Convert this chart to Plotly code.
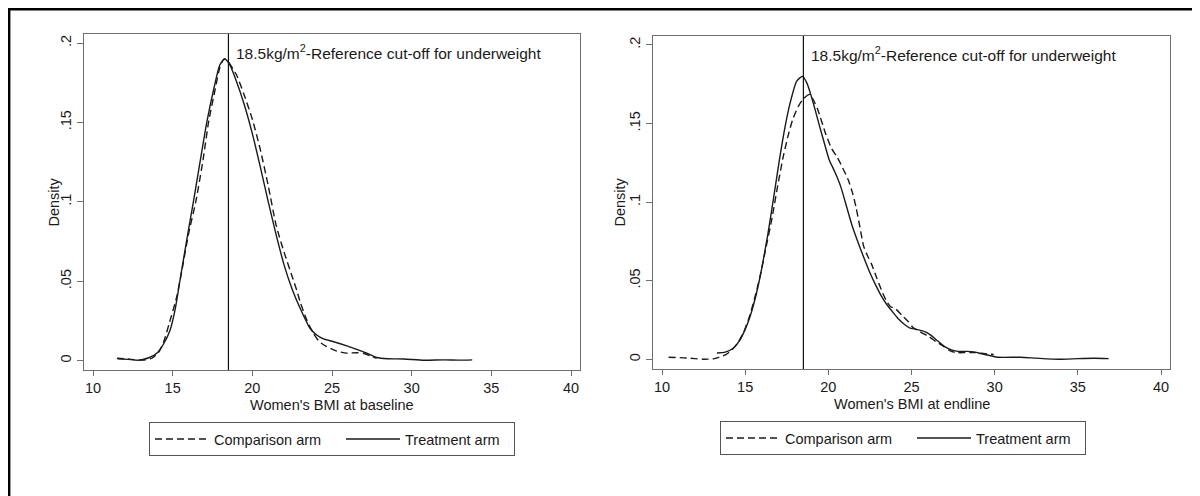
import plotly.graph_objects as go

# ---------------- data ----------------
base_comp_x = [11.5, 12.2, 12.75, 13.3, 13.7, 14.1, 14.41, 14.8, 15.25, 15.6, 16.0, 16.45, 16.9, 17.25,
               17.65, 18.0, 18.25, 18.5, 19.0, 19.5, 20.0, 20.5, 21.0, 21.5, 22.0, 22.5, 22.78, 23.0,
               23.4, 23.83, 24.2, 24.67, 25.3, 25.93, 26.55, 27.0, 27.4, 27.8]
base_comp_y = [0.0015, 0.001, 0.0004, 0.0005, 0.0015, 0.005, 0.011, 0.024, 0.040, 0.058, 0.080, 0.100,
               0.126, 0.150, 0.170, 0.186, 0.190, 0.188, 0.180, 0.167, 0.152, 0.133, 0.110, 0.085,
               0.068, 0.053, 0.0445, 0.037, 0.026, 0.0172, 0.012, 0.0088, 0.006, 0.0047, 0.005,
               0.0045, 0.003, 0.0015]

base_treat_x = [11.55, 12.2, 12.9, 13.5, 14.0, 14.4, 14.83, 15.15, 15.45, 15.85, 16.3, 16.7, 17.14,
                17.6, 17.95, 18.25, 18.55, 19.0, 19.5, 20.0, 20.5, 21.0, 21.5, 22.0, 22.5, 23.0,
                23.62, 24.0, 24.46, 25.0, 25.93, 26.5, 27.18, 27.8, 28.5, 29.5, 30.8, 32.0, 33.0, 33.8]
base_treat_y = [0.0012, 0.0008, 0.0003, 0.0018, 0.0047, 0.010, 0.019, 0.032, 0.050, 0.074, 0.100,
                0.124, 0.150, 0.172, 0.186, 0.190, 0.187, 0.176, 0.161, 0.143, 0.122, 0.100, 0.079,
                0.060, 0.045, 0.033, 0.0204, 0.0165, 0.0137, 0.0122, 0.0093, 0.0072, 0.0047, 0.002,
                0.0012, 0.001, 0.0002, 0.0005, 0.0003, 0.0005]

end_comp_x = [10.4, 11.5, 12.46, 13.15, 13.84, 14.2, 14.53, 14.9, 15.22, 15.55, 15.9, 16.25, 16.6,
              16.95, 17.29, 17.6, 17.87, 18.2, 18.44, 18.75, 18.9, 19.1, 19.36, 19.82, 20.2, 20.51,
              20.85, 21.2, 21.45, 21.66, 21.9, 22.12, 22.35, 22.58, 22.9, 23.27, 23.5, 23.73, 24.05,
              24.42, 24.8, 25.11, 25.6, 26.03, 26.5, 26.95, 27.3, 27.64, 28.2, 28.79, 29.4, 29.94]
end_comp_y = [0.0013, 0.0008, 0.0, 0.0004, 0.003, 0.006, 0.010, 0.017, 0.026, 0.038, 0.053, 0.071,
              0.089, 0.110, 0.129, 0.143, 0.153, 0.161, 0.165, 0.168, 0.1685, 0.165, 0.159, 0.144,
              0.134, 0.129, 0.122, 0.114, 0.106, 0.097, 0.084, 0.072, 0.066, 0.061, 0.052, 0.042,
              0.037, 0.0336, 0.032, 0.028, 0.024, 0.020, 0.017, 0.0145, 0.011, 0.008, 0.0055,
              0.0043, 0.0042, 0.0043, 0.0035, 0.003]

end_treat_x = [13.3, 13.8, 14.28, 14.69, 15.0, 15.29, 15.68, 16.0, 16.37, 16.7, 17.06, 17.4, 17.7,
               18.1, 18.44, 18.7, 18.9, 19.2, 19.48, 19.8, 20.05, 20.4, 20.74, 21.1, 21.43, 21.8,
               22.12, 22.5, 22.81, 23.2, 23.5, 23.8, 24.19, 24.6, 24.88, 25.3, 25.8, 26.2, 26.5,
               27.0, 27.4, 27.8, 28.33, 28.8, 29.25, 30.17, 31.55, 32.5, 33.86, 35.0, 36.0, 36.85]
end_treat_y = [0.004, 0.0045, 0.007, 0.0123, 0.019, 0.027, 0.042, 0.058, 0.080, 0.102, 0.127, 0.148,
               0.163, 0.177, 0.180, 0.176, 0.170, 0.159, 0.148, 0.136, 0.127, 0.119, 0.110, 0.097,
               0.085, 0.074, 0.065, 0.055, 0.048, 0.040, 0.035, 0.031, 0.026, 0.022, 0.020, 0.019,
               0.0176, 0.015, 0.0123, 0.008, 0.006, 0.005, 0.005, 0.0045, 0.0034, 0.0013, 0.0013,
               0.0007, 0.0, 0.0004, 0.0006, 0.0004]

x_ticks = [10, 15, 20, 25, 30, 35, 40]
y_ticks = [0, 0.05, 0.1, 0.15, 0.2]
y_tick_labels = ["0", ".05", ".1", ".15", ".2"]
cutoff = 18.5
series_names = ["Comparison arm", "Treatment arm"]
x_titles = ["Women's BMI at baseline", "Women's BMI at endline"]
cutoff_label = "18.5kg/m<sup>2</sup>-Reference cut-off for underweight"

# ---------------- figure ----------------
OFF = 8                      # page body margin that shifts the plot
W, H = 1200 - OFF, 496 - OFF
FONT = "Liberation Sans, Arial, sans-serif"
INK = "#1a1a1a"
FRAME = "#6e6e6e"

def px_x(p):
    return (p - OFF) / W

def px_y(p):
    return 1 - (p - OFF) / H

fig = go.Figure()

dash_style = "7px,4px"
panels = [
    (base_comp_x, base_comp_y, base_treat_x, base_treat_y, "x", "y", "legend"),
    (end_comp_x, end_comp_y, end_treat_x, end_treat_y, "x2", "y2", "legend2"),
]
for cx, cy, tx, ty, xa, ya, lg in panels:
    fig.add_trace(go.Scatter(x=cx, y=cy, mode="lines", name=series_names[0], xaxis=xa, yaxis=ya,
                             legend=lg, line=dict(color=INK, width=1.4, dash=dash_style,
                                                  shape="spline", smoothing=0.6),
                             legendwidth=122))
    fig.add_trace(go.Scatter(x=tx, y=ty, mode="lines", name=series_names[1], xaxis=xa, yaxis=ya,
                             legend=lg, line=dict(color=INK, width=1.4, shape="spline", smoothing=0.6),
                             legendwidth=104))

# panel geometry (pixels in the 1200x496 page)
left_frame = dict(x0=84, x1=580, y0=34, y1=370)
right_frame = dict(x0=653, x1=1170, y0=36, y1=369)

def xaxis_cfg(fr, rng, anchor):
    return dict(domain=[px_x(fr["x0"]), px_x(fr["x1"])], range=rng, anchor=anchor,
                tickmode="array", tickvals=x_ticks, ticks="outside", ticklen=5, tickcolor=FRAME,
                showline=True, mirror=True, linecolor=FRAME, linewidth=1, showgrid=False,
                zeroline=False, tickfont=dict(family=FONT, size=14.5, color=INK))

def yaxis_cfg(fr, rng, anchor):
    return dict(domain=[px_y(fr["y1"]), px_y(fr["y0"])], range=rng, anchor=anchor,
                tickmode="array", tickvals=y_ticks, ticktext=y_tick_labels, ticks="outside",
                ticklen=6, tickcolor=FRAME, tickangle=-90,
                showline=True, mirror=True, linecolor=FRAME, linewidth=1, showgrid=False,
                zeroline=False, tickfont=dict(family=FONT, size=14.5, color=INK))

fig.update_layout(
    width=W, height=H,
    margin=dict(l=0, r=0, t=0, b=0),
    paper_bgcolor="white", plot_bgcolor="white",
    font=dict(family=FONT, color=INK),
    xaxis=xaxis_cfg(left_frame, [9.435, 40.565], "y"),
    yaxis=yaxis_cfg(left_frame, [-0.0059, 0.2057], "x"),
    xaxis2=xaxis_cfg(right_frame, [9.459, 40.54], "y2"),
    yaxis2=yaxis_cfg(right_frame, [-0.0062, 0.2057], "x2"),
    legend=dict(orientation="h", x=px_x(149), y=px_y(422), xanchor="left", yanchor="top",
                bordercolor="#555555", borderwidth=1, bgcolor="white", itemwidth=54,
                font=dict(family=FONT, size=14.5, color=INK), traceorder="normal"),
    legend2=dict(orientation="h", x=px_x(720), y=px_y(421), xanchor="left", yanchor="top",
                 bordercolor="#555555", borderwidth=1, bgcolor="white", itemwidth=54,
                 font=dict(family=FONT, size=14.5, color=INK), traceorder="normal"),
    showlegend=True,
)

# cut-off lines and labels
for xa, ya in [("x", "y"), ("x2", "y2")]:
    fig.add_shape(type="line", xref=xa, yref=ya + " domain", x0=cutoff, x1=cutoff, y0=0, y1=1,
                  line=dict(color="#111111", width=1.2))
    fig.add_annotation(x=cutoff, y=0.1944, xref=xa, yref=ya, text=cutoff_label, showarrow=False,
                       xanchor="left", yanchor="middle", xshift=6,
                       font=dict(family=FONT, size=15.5, color=INK))

# axis titles
for fr, title, ycen in [(left_frame, x_titles[0], 405), (right_frame, x_titles[1], 404)]:
    fig.add_annotation(x=px_x((fr["x0"] + fr["x1"]) / 2), y=px_y(ycen), xref="paper", yref="paper",
                       text=title, showarrow=False, xanchor="center", yanchor="middle",
                       font=dict(family=FONT, size=14.5, color=INK))
for xc, fr in [(53.5, left_frame), (619, right_frame)]:
    fig.add_annotation(x=px_x(xc), y=px_y((fr["y0"] + fr["y1"]) / 2), xref="paper", yref="paper",
                       text="Density", showarrow=False, textangle=-90, xanchor="center",
                       yanchor="middle", font=dict(family=FONT, size=14.5, color=INK))

# outer border (top and left only, as in the cropped reference)
BX, BY = 9.2, 9.2
fig.add_shape(type="line", xref="paper", yref="paper", x0=px_x(BX), x1=px_x(BX), y0=0,
              y1=px_y(BY - 1.2), line=dict(color="black", width=2.4))
fig.add_shape(type="line", xref="paper", yref="paper", x0=px_x(BX - 1.2), x1=1, y0=px_y(BY),
              y1=px_y(BY), line=dict(color="black", width=2.4))

fig.write_html("out.html")
